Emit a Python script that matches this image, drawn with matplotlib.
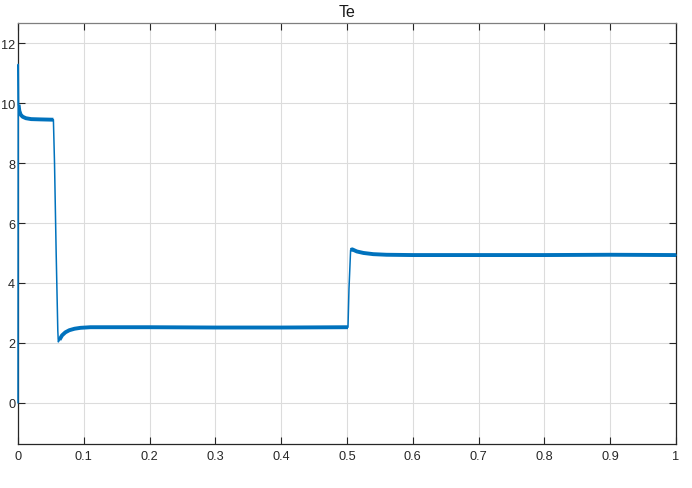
import matplotlib
matplotlib.use("Agg")
import matplotlib.pyplot as plt
import numpy as np

plt.rcParams['font.family'] = ['Liberation Sans', 'DejaVu Sans']

# Key points (time in s, torque Te)
t_key = [0.0, 0.0004, 0.0009, 0.002, 0.004, 0.007, 0.012, 0.02, 0.035, 0.0538,
         0.0555, 0.058, 0.0605, 0.0613, 0.063, 0.067, 0.072, 0.078, 0.086, 0.095,
         0.11, 0.13, 0.2, 0.3, 0.4, 0.5015, 0.503, 0.5055, 0.508, 0.515, 0.525,
         0.54, 0.56, 0.6, 0.7, 0.8, 0.9, 1.0]
te_key = [0.0, 11.3, 9.95, 9.75, 9.62, 9.55, 9.5, 9.47, 9.46, 9.45,
          8.0, 5.0, 2.4, 2.03, 2.1, 2.25, 2.35, 2.42, 2.47, 2.5,
          2.52, 2.52, 2.52, 2.51, 2.51, 2.52, 3.8, 5.1, 5.12, 5.05, 5.0,
          4.96, 4.94, 4.93, 4.93, 4.93, 4.94, 4.93]

# plateau sections (index ranges into the arrays above) that show a noise band
plateaus = [(2, 10), (14, 26), (27, 38)]

x_ticks = [0, 0.1, 0.2, 0.3, 0.4, 0.5, 0.6, 0.7, 0.8, 0.9, 1.0]
x_labels = ['0', '0.1', '0.2', '0.3', '0.4', '0.5', '0.6', '0.7', '0.8', '0.9', '1']
y_ticks = [0, 2, 4, 6, 8, 10, 12]

line_color = '#0072BD'

fig = plt.figure(figsize=(6.92, 4.89), dpi=100)
ax = fig.add_axes([18/692, 1-445/489, (676-18)/692, (445-24)/489])

ax.plot(t_key, te_key, color=line_color, lw=1.1, solid_joinstyle='round',
        zorder=3, clip_on=False)
for a, b in plateaus:
    ax.plot(t_key[a:b], te_key[a:b], color=line_color, lw=2.8,
            solid_capstyle='butt', solid_joinstyle='round', zorder=3)

ax.set_xlim(0, 1)
ax.set_ylim(-1.38, 12.68)
ax.set_xticks(x_ticks)
ax.set_xticklabels(x_labels)
ax.set_yticks(y_ticks)
ax.grid(True, color='#dcdcdc', lw=0.8)
ax.set_axisbelow(True)
ax.tick_params(direction='in', length=5, top=True, right=True, labelsize=9.2,
               colors='#262626', width=0.8)
ax.tick_params(axis='y', pad=2.0)
ax.tick_params(axis='x', pad=4.5)
for side in ['left', 'bottom', 'right']:
    ax.spines[side].set_color('#262626')
    ax.spines[side].set_linewidth(0.9)
ax.spines['top'].set_color('#7f7f7f')
ax.spines['top'].set_linewidth(0.9)
ax.set_title('Te', fontsize=11.5, color='#1a1a1a', pad=5)

fig.savefig('out.png', dpi=100)
